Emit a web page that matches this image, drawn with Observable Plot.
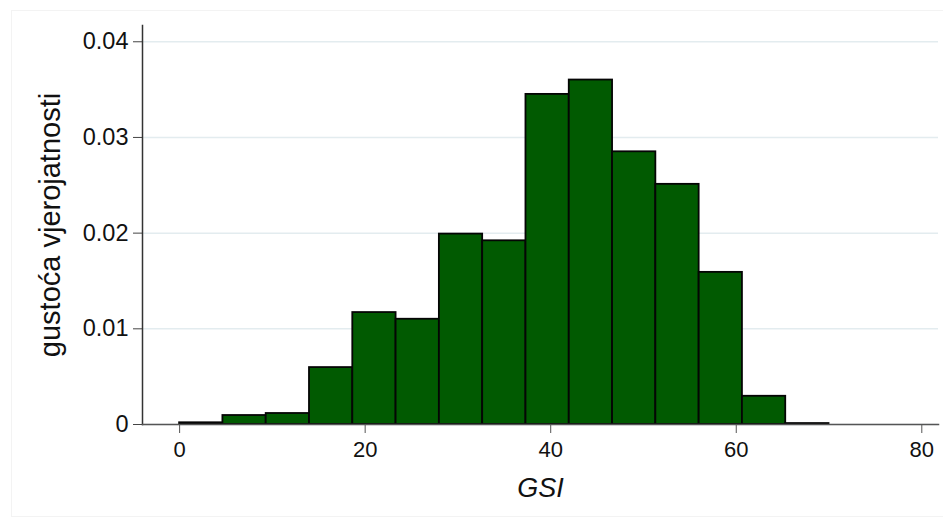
<!DOCTYPE html>
<html>
<head>
<meta charset="utf-8">
<script src="https://cdn.jsdelivr.net/npm/d3@7"></script>
<script src="https://cdn.jsdelivr.net/npm/@observablehq/plot@0.6"></script>
<style>
  html, body { margin: 0; padding: 0; background: #fff; }
  #wrap { position: relative; width: 943px; height: 520px; }
  #border { position: absolute; left: 11px; top: 10px; right: 0; bottom: 3px; border-left: 1px solid #f3f3f3; border-top: 1px solid #f3f3f3; border-bottom: 1px solid #f3f3f3; pointer-events: none; }
  svg { font-family: "Liberation Sans", Arial, sans-serif; }
</style>
</head>
<body>
<div id="wrap"><div id="border"></div><div id="chart"></div></div>
<script>
// Histogram bins (GSI) and density values
const binStarts = [0, 4.667, 9.333, 14, 18.667, 23.333, 28, 32.667, 37.333, 42, 46.667, 51.333, 56, 60.667, 65.333];
const binEnds   = [4.667, 9.333, 14, 18.667, 23.333, 28, 32.667, 37.333, 42, 46.667, 51.333, 56, 60.667, 65.333, 70];
const density   = [0.00018, 0.00094, 0.00115, 0.00595, 0.0117, 0.0110, 0.0199, 0.0192, 0.0345, 0.0360, 0.0285, 0.0251, 0.0159, 0.00295, 0.0001];
const xTicks = [0, 20, 40, 60, 80];
const yTicks = [0, 0.01, 0.02, 0.03, 0.04];
const xLabel = "GSI";
const yLabel = "gustoća vjerojatnosti";

const bins = binStarts.map((s, i) => ({x1: s, x2: binEnds[i], y: density[i]}));

const chart = Plot.plot({
  width: 943,
  height: 520,
  marginLeft: 142,
  marginRight: 5,
  marginTop: 25,
  marginBottom: 96,
  style: {fontFamily: "Liberation Sans, Arial, sans-serif", background: "transparent"},
  x: {domain: [-4, 81.8]},
  y: {domain: [0, 0.0417]},
  marks: [
    Plot.gridY(yTicks, {stroke: "#e3ecef", strokeOpacity: 1, strokeWidth: 1.5}),
    Plot.rectY(bins, {x1: "x1", x2: "x2", y: "y", fill: "#015a01", stroke: "#050505", strokeWidth: 1.8}),
    Plot.axisY(yTicks, {tickSize: 9, tickPadding: 5, fontSize: 23.5, stroke: "#444", fill: "#111", label: null,
      tickFormat: d => d === 0 ? "0" : d.toFixed(2)}),
    Plot.axisX(xTicks, {tickSize: 9, tickPadding: 8, fontSize: 22, stroke: "#555", fill: "#111", label: null}),
    Plot.frame({anchor: "left", stroke: "#333", strokeWidth: 1.5}),
    Plot.frame({anchor: "bottom", stroke: "#555", strokeWidth: 1.5}),
    Plot.text([yLabel], {frameAnchor: "left", textAnchor: "middle", rotate: -90, dx: -92, fontSize: 29, fill: "#111"}),
    Plot.text([xLabel], {frameAnchor: "bottom", dy: 72, fontSize: 27, fontStyle: "italic", fill: "#111"})
  ]
});
document.getElementById("chart").appendChild(chart);
</script>
</body>
</html>
